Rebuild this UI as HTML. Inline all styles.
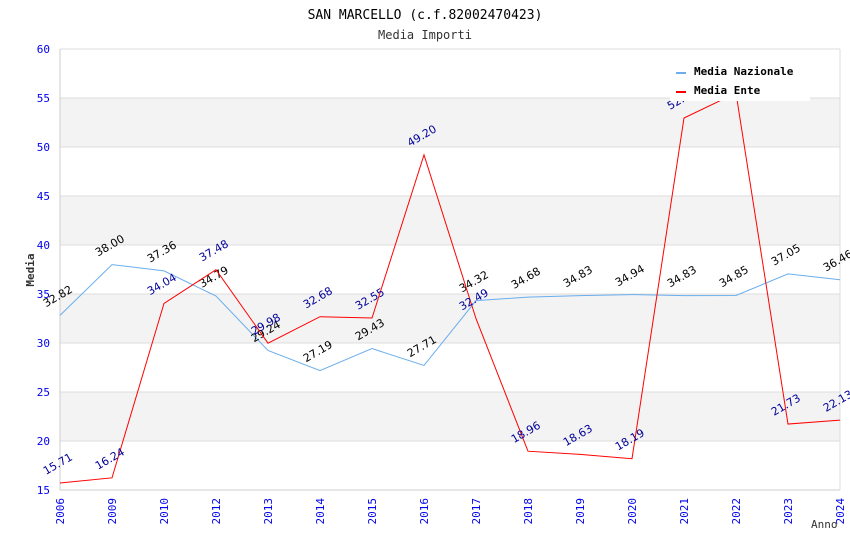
<!DOCTYPE html>
<html><head><meta charset="utf-8"><style>
body{margin:0;background:#fff;}
svg text{font-family:"DejaVu Sans Mono","Liberation Mono",monospace;}
svg text.val{font-family:"DejaVu Sans","Liberation Sans",sans-serif;}
</style></head><body>
<svg id="chart" width="850" height="550" xmlns="http://www.w3.org/2000/svg">
<text x="425" y="19" text-anchor="middle" font-size="13" fill="#000">SAN MARCELLO (c.f.82002470423)</text>
<text x="425" y="39" text-anchor="middle" font-size="12" fill="#333">Media Importi</text>
<g id="grid"></g>
<g id="axes"></g>
<g id="series"></g>
<g id="legend">
<rect x="670" y="60" width="140" height="41" fill="#fff"/>
<rect x="676" y="72" width="10" height="2" fill="#6aaeee"/>
<text x="694" y="75" font-size="11" font-weight="bold" fill="#000">Media Nazionale</text>
<rect x="676" y="91" width="10" height="2" fill="#ff0000"/>
<text x="694" y="94" font-size="11" font-weight="bold" fill="#000">Media Ente</text>
</g>
<text x="34" y="270" font-size="11" font-weight="bold" fill="#333" transform="rotate(-90 34 270)" text-anchor="middle">Media</text>
<text x="811" y="528" font-size="11" fill="#333">Anno</text>
</svg>
<script>
const categories=["2006","2009","2010","2012","2013","2014","2015","2016","2017","2018","2019","2020","2021","2022","2023","2024"];
const nazionale=[32.82,38.00,37.36,34.79,29.24,27.19,29.43,27.71,34.32,34.68,34.83,34.94,34.83,34.85,37.05,36.46];
const ente=[15.71,16.24,34.04,37.48,29.98,32.68,32.55,49.20,32.49,18.96,18.63,18.19,52.96,55.5,21.73,22.13];
const yTicks=[15,20,25,30,35,40,45,50,55,60];
const NS="http://www.w3.org/2000/svg";
const L=60,R=840,T=49,B=490,yMin=15,yMax=60;
const x=i=>L+i*(R-L)/(categories.length-1);
const y=v=>B-(v-yMin)/(yMax-yMin)*(B-T);
function mk(tag,attrs,parent,txt){const e=document.createElementNS(NS,tag);for(const k in attrs)e.setAttribute(k,attrs[k]);if(txt!==undefined)e.textContent=txt;parent.appendChild(e);return e;}
const grid=document.getElementById('grid'),axes=document.getElementById('axes'),series=document.getElementById('series');
for(let i=0;i<yTicks.length-1;i++){
  if(i%2===1){const r=mk('rect',{x:L,y:y(yTicks[i+1]),width:R-L,height:y(yTicks[i])-y(yTicks[i+1]),fill:'#f3f3f3'},grid);
  
  }
}
yTicks.forEach(t=>{
  const l=mk('line',{x1:L,x2:R,y1:y(t),y2:y(t),stroke:'#ddd','stroke-width':1},grid);
  
  
  const tx=mk('text',{x:L-10,y:y(t)+4,'text-anchor':'end','font-size':11,fill:'#0000ee'},axes,String(t));
  
  
});
mk('line',{x1:L,x2:L,y1:T,y2:B,stroke:'#ccc'},axes);
mk('line',{x1:R,x2:R,y1:T,y2:B,stroke:'#ddd'},axes);
mk('line',{x1:L,x2:R,y1:B,y2:B,stroke:'#ccc'},axes);
categories.forEach((c,i)=>{
  const tx=mk('text',{x:x(i)+4,y:B+8,'text-anchor':'end','font-size':11,fill:'#0000ee',transform:`rotate(-90 ${x(i)+4} ${B+8})`},axes,c);
  
  
});
function draw(vals,color,lblColor,name){
  const p=mk('polyline',{points:vals.map((v,i)=>x(i)+','+y(v)).join(' '),fill:'none',stroke:color,'stroke-width':1},series);
  
  
  vals.forEach((v,i)=>{
    const lx=x(i)-14,ly=y(v)-8;
    const t=mk('text',{class:'val',x:lx,y:ly,'font-size':11,fill:lblColor,transform:`rotate(-30 ${lx} ${ly})`},series,v.toFixed(2));
    
    
  });
}
draw(nazionale,'#6aaeee','#000','nazionale');
draw(ente,'#ff0000','#000099','ente');
document.getElementById('chart').appendChild(document.getElementById('legend'));
</script>
</body></html>
